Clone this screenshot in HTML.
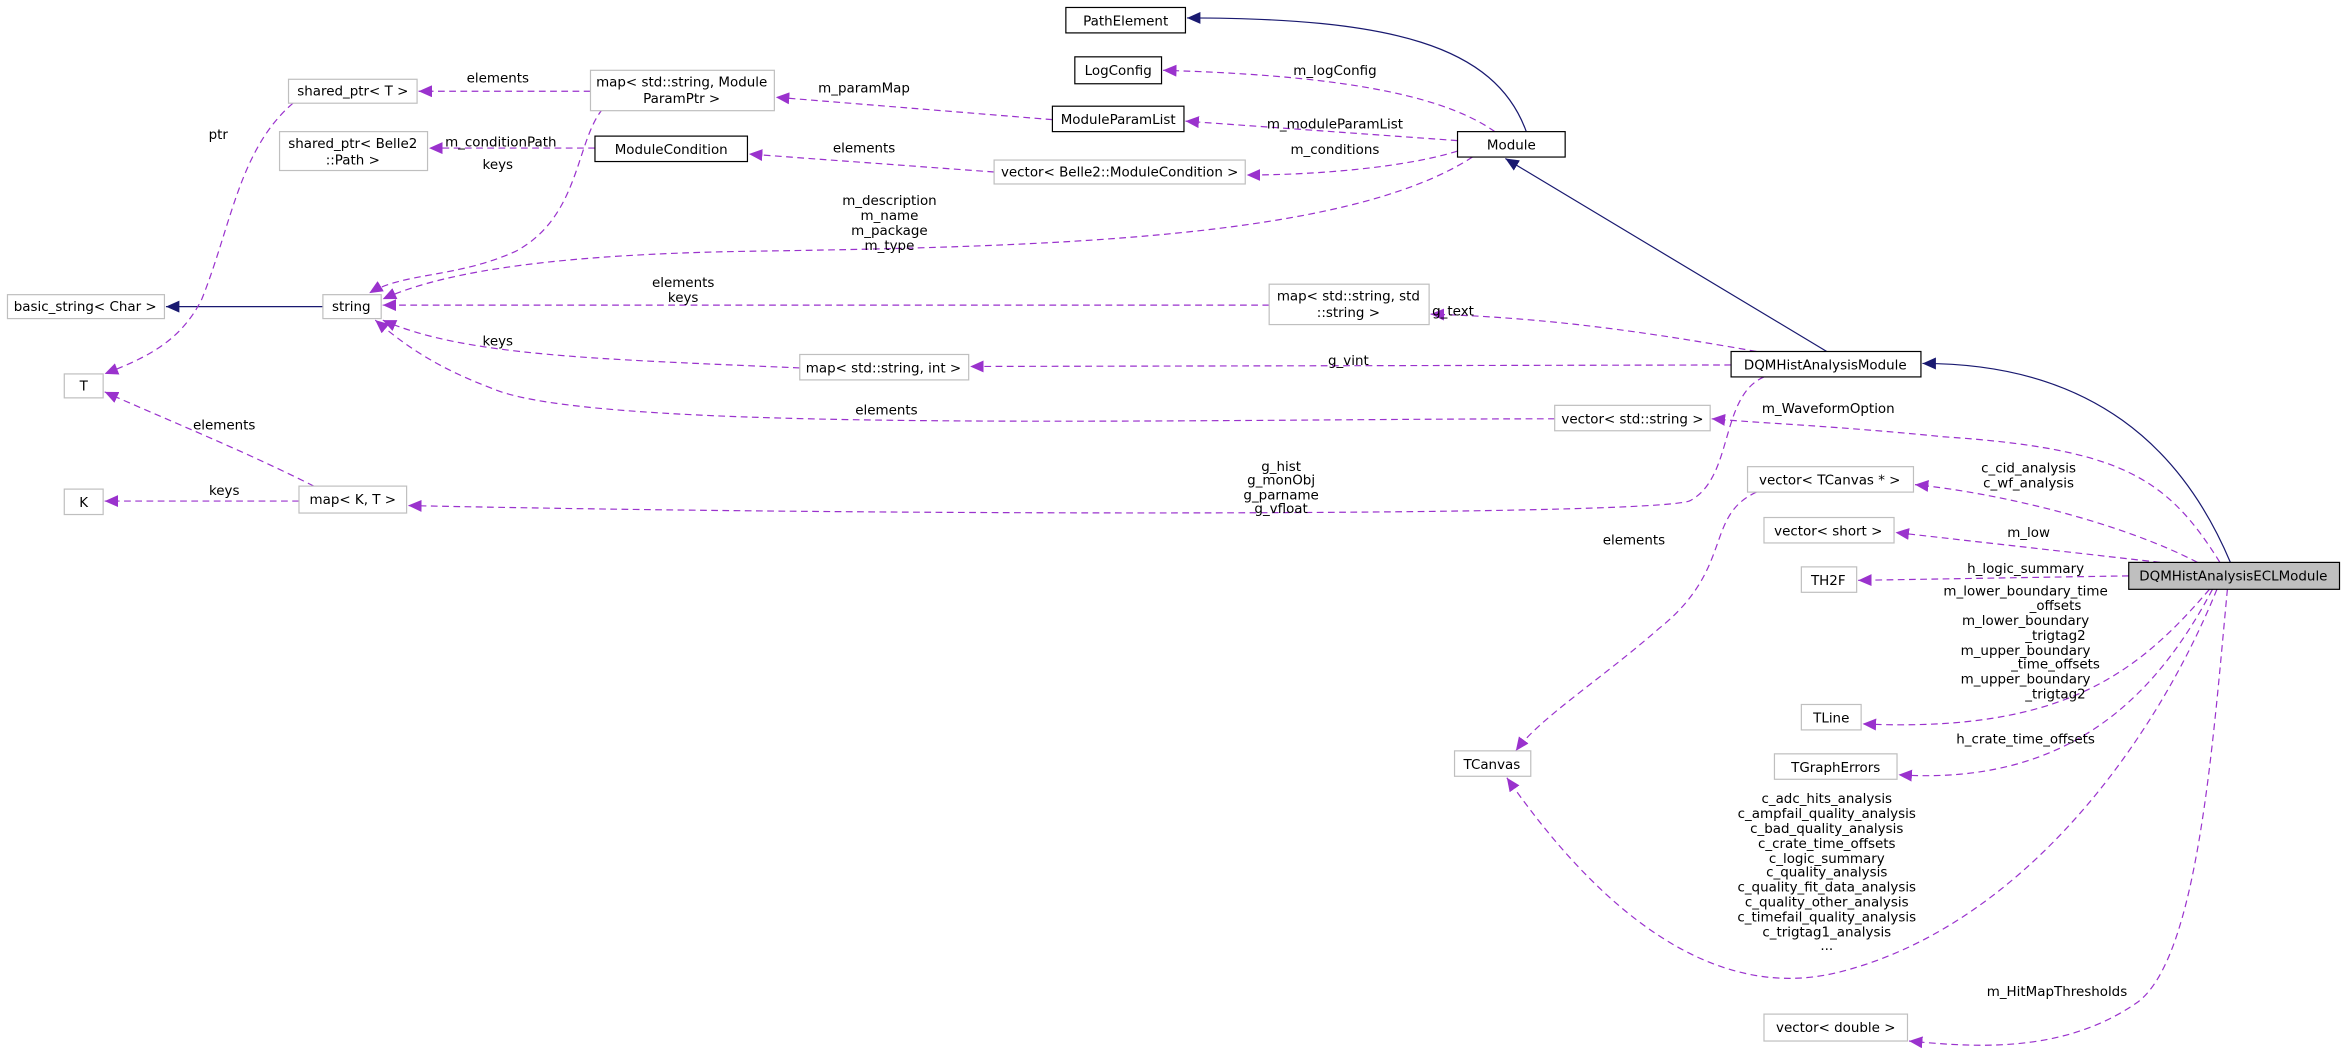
<!DOCTYPE html>
<html><head><meta charset="utf-8"><style>
html,body{margin:0;padding:0;background:#fff;}
svg{display:block;}
text{font-family:"DejaVu Sans","Liberation Sans",sans-serif;font-size:9px;fill:#000;}
.g{fill:#fff;stroke:#bfbfbf;stroke-width:0.8;}
.b{fill:#fff;stroke:#000;stroke-width:0.8;}
.d{fill:none;stroke:#9a32cd;stroke-width:0.8;stroke-dasharray:4.5,3;}
.n{fill:none;stroke:#191970;stroke-width:0.8;}
</style></head><body>
<svg width="2344" height="1050" viewBox="0 0 1568 702" preserveAspectRatio="none" xmlns="http://www.w3.org/2000/svg">
<defs>
<marker id="pa" markerUnits="userSpaceOnUse" markerWidth="10" markerHeight="8" refX="9" refY="4" orient="auto"><path d="M0,0 L9,4 L0,8 z" fill="#9a32cd"/></marker>
<marker id="na" markerUnits="userSpaceOnUse" markerWidth="10" markerHeight="8" refX="9" refY="4" orient="auto"><path d="M0,0 L9,4 L0,8 z" fill="#191970"/></marker>
</defs>

<!-- navy inheritance edges -->
<path class="n" marker-end="url(#na)" d="M216,205 L111,205"/>
<path class="n" marker-end="url(#na)" d="M1021,88 C1000,30 930,12 794,12"/>
<path class="n" marker-end="url(#na)" d="M1222,235 L1007,106"/>
<path class="n" marker-end="url(#na)" d="M1492,376 C1460,300 1400,243 1286,243"/>

<!-- purple dashed edges -->
<path class="d" marker-end="url(#pa)" d="M395,61 L280,61"/>
<path class="d" marker-end="url(#pa)" d="M196,69 C160,100 155,150 135,200 C120,230 95,240 70,250"/>
<path class="d" marker-end="url(#pa)" d="M704,80 L519,65"/>
<path class="d" marker-end="url(#pa)" d="M398,99 L287,99"/>
<path class="d" marker-end="url(#pa)" d="M665,115 L501,103"/>
<path class="d" marker-end="url(#pa)" d="M403,73 C385,95 388,145 345,168 C305,186 270,182 247,196"/>
<path class="d" marker-end="url(#pa)" d="M1000,88 C960,60 880,50 778,47"/>
<path class="d" marker-end="url(#pa)" d="M975,94 L793,81"/>
<path class="d" marker-end="url(#pa)" d="M975,101 C940,112 880,117 834,117"/>
<path class="d" marker-end="url(#pa)" d="M985,105 C900,160 700,165 500,168 C380,170 300,180 256,200"/>
<path class="d" marker-end="url(#pa)" d="M849,204 L256,204"/>
<path class="d" marker-end="url(#pa)" d="M1175,235 C1080,218 1020,212 957,210"/>
<path class="d" marker-end="url(#pa)" d="M1158,244 L649,245"/>
<path class="d" marker-end="url(#pa)" d="M535,246 C400,240 310,238 256,214"/>
<path class="d" marker-end="url(#pa)" d="M1040,280 C800,280 400,290 330,260 C290,245 270,230 251,214"/>
<path class="d" marker-end="url(#pa)" d="M210,325 C160,300 110,280 70,262"/>
<path class="d" marker-end="url(#pa)" d="M200,335 L70,335"/>
<path class="d" marker-end="url(#pa)" d="M1180,252 C1150,265 1160,320 1130,335 C1100,345 600,345 273,338"/>
<path class="d" marker-end="url(#pa)" d="M1485,376 C1450,320 1420,300 1300,292 C1230,285 1180,283 1145,280"/>
<path class="d" marker-end="url(#pa)" d="M1470,376 C1420,350 1340,330 1281,324"/>
<path class="d" marker-end="url(#pa)" d="M1445,376 L1268,356"/>
<path class="d" marker-end="url(#pa)" d="M1424,385 L1243,388"/>
<path class="d" marker-end="url(#pa)" d="M1478,394 C1430,450 1380,490 1246,484"/>
<path class="d" marker-end="url(#pa)" d="M1480,394 C1440,470 1380,525 1270,518"/>
<path class="d" marker-end="url(#pa)" d="M1483,394 C1440,500 1350,620 1230,650 C1130,675 1050,580 1008,520"/>
<path class="d" marker-end="url(#pa)" d="M1175,329 C1140,345 1160,380 1110,420 C1070,455 1030,480 1014,502"/>
<path class="d" marker-end="url(#pa)" d="M1490,394 C1480,500 1470,640 1430,670 C1380,705 1320,700 1277,696"/>

<!-- edge labels -->
<text x="333" y="55" text-anchor="middle">elements</text>
<text x="146" y="93" text-anchor="middle">ptr</text>
<text x="578" y="62" text-anchor="middle">m_paramMap</text>
<text x="335" y="98" text-anchor="middle">m_conditionPath</text>
<text x="333" y="113" text-anchor="middle">keys</text>
<text x="578" y="102" text-anchor="middle">elements</text>
<text x="893" y="50" text-anchor="middle">m_logConfig</text>
<text x="893" y="86" text-anchor="middle">m_moduleParamList</text>
<text x="893" y="103" text-anchor="middle">m_conditions</text>
<text x="595" y="137" text-anchor="middle">m_description</text>
<text x="595" y="147" text-anchor="middle">m_name</text>
<text x="595" y="157" text-anchor="middle">m_package</text>
<text x="595" y="167" text-anchor="middle">m_type</text>
<text x="457" y="192" text-anchor="middle">elements</text>
<text x="457" y="202" text-anchor="middle">keys</text>
<text x="972" y="211" text-anchor="middle">g_text</text>
<text x="902" y="244" text-anchor="middle">g_vint</text>
<text x="333" y="231" text-anchor="middle">keys</text>
<text x="593" y="277" text-anchor="middle">elements</text>
<text x="150" y="287" text-anchor="middle">elements</text>
<text x="150" y="331" text-anchor="middle">keys</text>
<text x="857" y="315" text-anchor="middle">g_hist</text>
<text x="857" y="324" text-anchor="middle">g_monObj</text>
<text x="857" y="334" text-anchor="middle">g_parname</text>
<text x="857" y="343" text-anchor="middle">g_vfloat</text>
<text x="1223" y="276" text-anchor="middle">m_WaveformOption</text>
<text x="1357" y="316" text-anchor="middle">c_cid_analysis</text>
<text x="1357" y="326" text-anchor="middle">c_wf_analysis</text>
<text x="1093" y="364" text-anchor="middle">elements</text>
<text x="1357" y="359" text-anchor="middle">m_low</text>
<text x="1355" y="383" text-anchor="middle">h_logic_summary</text>
<text x="1355" y="398" text-anchor="middle">m_lower_boundary_time</text>
<text x="1375" y="408" text-anchor="middle">_offsets</text>
<text x="1355" y="418" text-anchor="middle">m_lower_boundary</text>
<text x="1375" y="428" text-anchor="middle">_trigtag2</text>
<text x="1355" y="438" text-anchor="middle">m_upper_boundary</text>
<text x="1375" y="447" text-anchor="middle">_time_offsets</text>
<text x="1355" y="457" text-anchor="middle">m_upper_boundary</text>
<text x="1375" y="467" text-anchor="middle">_trigtag2</text>
<text x="1355" y="497" text-anchor="middle">h_crate_time_offsets</text>
<text x="1222" y="537" text-anchor="middle">c_adc_hits_analysis</text>
<text x="1222" y="547" text-anchor="middle">c_ampfail_quality_analysis</text>
<text x="1222" y="557" text-anchor="middle">c_bad_quality_analysis</text>
<text x="1222" y="567" text-anchor="middle">c_crate_time_offsets</text>
<text x="1222" y="577" text-anchor="middle">c_logic_summary</text>
<text x="1222" y="586" text-anchor="middle">c_quality_analysis</text>
<text x="1222" y="596" text-anchor="middle">c_quality_fit_data_analysis</text>
<text x="1222" y="606" text-anchor="middle">c_quality_other_analysis</text>
<text x="1222" y="616" text-anchor="middle">c_timefail_quality_analysis</text>
<text x="1222" y="626" text-anchor="middle">c_trigtag1_analysis</text>
<text x="1222" y="635" text-anchor="middle">...</text>
<text x="1376" y="666" text-anchor="middle">m_HitMapThresholds</text>

<!-- nodes -->
<rect class="b" x="713" y="5" width="80" height="17"/><text x="753" y="17" text-anchor="middle">PathElement</text>
<rect class="b" x="719" y="38" width="58" height="18"/><text x="748" y="50" text-anchor="middle">LogConfig</text>
<rect class="b" x="704" y="71" width="88" height="17"/><text x="748" y="83" text-anchor="middle">ModuleParamList</text>
<rect class="b" x="975" y="88" width="72" height="17"/><text x="1011" y="100" text-anchor="middle">Module</text>
<rect class="g" x="193" y="53" width="86" height="16"/><text x="236" y="64" text-anchor="middle">shared_ptr&lt; T &gt;</text>
<rect class="g" x="395" y="47" width="123" height="27"/><text x="456" y="58" text-anchor="middle">map&lt; std::string, Module</text><text x="456" y="69" text-anchor="middle">ParamPtr &gt;</text>
<rect class="g" x="187" y="88" width="99" height="26"/><text x="236" y="99" text-anchor="middle">shared_ptr&lt; Belle2</text><text x="236" y="110" text-anchor="middle">::Path &gt;</text>
<rect class="b" x="398" y="91" width="102" height="17"/><text x="449" y="103" text-anchor="middle">ModuleCondition</text>
<rect class="g" x="665" y="107" width="168" height="16"/><text x="749" y="118" text-anchor="middle">vector&lt; Belle2::ModuleCondition &gt;</text>
<rect class="g" x="5" y="197" width="105" height="16"/><text x="57" y="208" text-anchor="middle">basic_string&lt; Char &gt;</text>
<rect class="g" x="216" y="197" width="39" height="16"/><text x="235" y="208" text-anchor="middle">string</text>
<rect class="g" x="849" y="190" width="107" height="27"/><text x="902" y="201" text-anchor="middle">map&lt; std::string, std</text><text x="902" y="212" text-anchor="middle">::string &gt;</text>
<rect class="g" x="535" y="237" width="113" height="17"/><text x="591" y="249" text-anchor="middle">map&lt; std::string, int &gt;</text>
<rect class="b" x="1158" y="235" width="127" height="17"/><text x="1221" y="247" text-anchor="middle">DQMHistAnalysisModule</text>
<rect class="g" x="43" y="250" width="26" height="16"/><text x="56" y="261" text-anchor="middle">T</text>
<rect class="g" x="1040" y="271" width="104" height="17"/><text x="1092" y="283" text-anchor="middle">vector&lt; std::string &gt;</text>
<rect class="g" x="43" y="327" width="26" height="17"/><text x="56" y="339" text-anchor="middle">K</text>
<rect class="g" x="200" y="325" width="72" height="18"/><text x="236" y="337" text-anchor="middle">map&lt; K, T &gt;</text>
<rect class="g" x="1169" y="312" width="111" height="17"/><text x="1224" y="324" text-anchor="middle">vector&lt; TCanvas * &gt;</text>
<rect class="g" x="1180" y="346" width="87" height="17"/><text x="1223" y="358" text-anchor="middle">vector&lt; short &gt;</text>
<rect class="g" x="1205" y="379" width="37" height="17"/><text x="1223" y="391" text-anchor="middle">TH2F</text>
<rect x="1424" y="376" width="141" height="18" fill="#bfbfbf" stroke="#000" stroke-width="0.8"/><text x="1494" y="388" text-anchor="middle">DQMHistAnalysisECLModule</text>
<rect class="g" x="1205" y="471" width="40" height="17"/><text x="1225" y="483" text-anchor="middle">TLine</text>
<rect class="g" x="1187" y="504" width="82" height="17"/><text x="1228" y="516" text-anchor="middle">TGraphErrors</text>
<rect class="g" x="973" y="502" width="51" height="17"/><text x="998" y="514" text-anchor="middle">TCanvas</text>
<rect class="g" x="1180" y="678" width="96" height="18"/><text x="1228" y="690" text-anchor="middle">vector&lt; double &gt;</text>
</svg>
</body></html>
